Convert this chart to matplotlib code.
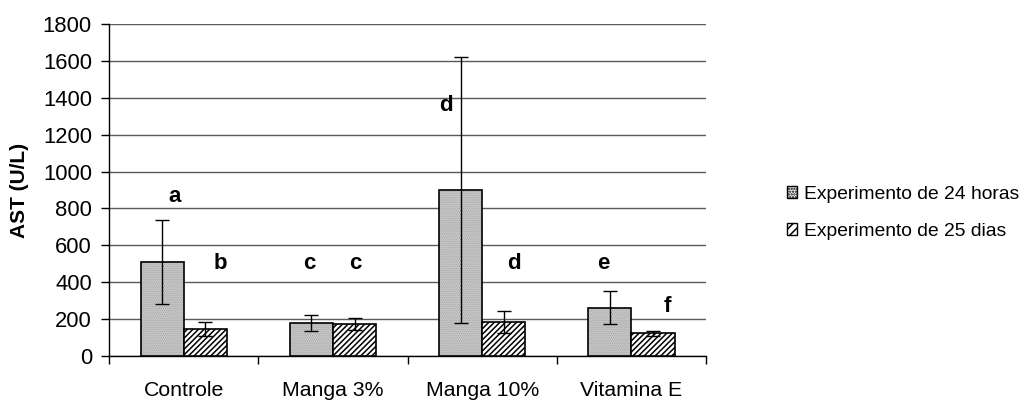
import matplotlib.pyplot as plt
import numpy as np
from matplotlib.patches import Patch
from matplotlib.ticker import FixedLocator

plt.rcParams["font.family"] = ["Liberation Sans", "DejaVu Sans"]
plt.rcParams["hatch.linewidth"] = 1.1

# data
groups = ["Controle", "Manga 3%", "Manga 10%", "Vitamina E"]
series_names = ["Experimento de 24 horas", "Experimento de 25 dias"]
ast_24h = [510, 177, 900, 261]
err_24h = [228, 45, 725, 90]
ast_25d = [146, 171, 185, 122]
err_25d = [37, 33, 60, 13]

# significance letters (x in category units, y in U/L)
letters = ["a", "b", "c", "c", "d", "d", "e", "f"]
letter_x = [-0.06, 0.245, 0.84, 1.15, 1.76, 2.21, 2.81, 3.245]
letter_y = [864, 498, 498, 498, 1359, 498, 498, 266]

DOT_FACE = "#f0f0f0"
DOT_COLOR = "#8c8c8c"
DOT_HATCH = "........"
LINE_HATCH = "//////"

fig = plt.figure(figsize=(10.23, 4.0), dpi=100)
ax = fig.add_axes([0.1068, 0.111, 0.5832, 0.828])

x = np.arange(len(groups))
w = 0.29
err_kw = dict(ecolor="black", elinewidth=1, capsize=5, capthick=1)

# 24 h: gray stipple (hatch drawn in gray, outline drawn separately in black)
ax.bar(x - w / 2, ast_24h, w, color=DOT_FACE, edgecolor=DOT_COLOR,
       linewidth=0, hatch=DOT_HATCH, zorder=3)
ax.bar(x - w / 2, ast_24h, w, yerr=err_24h, fill=False, edgecolor="black",
       linewidth=1.2, error_kw=err_kw, zorder=3)
# 25 d: black diagonal lines
ax.bar(x + w / 2, ast_25d, w, yerr=err_25d, color="white", edgecolor="black",
       linewidth=1.2, hatch=LINE_HATCH, error_kw=err_kw, zorder=3)

for t, tx, ty in zip(letters, letter_x, letter_y):
    ax.text(tx, ty, t, ha="center", va="center", fontsize=16,
            fontweight="bold", zorder=4)

ax.set_xlim(-0.5, len(groups) - 0.5)
ax.set_ylim(0, 1800)
ax.set_yticks(np.arange(0, 1801, 200))
ax.set_xticks(x)
ax.set_xticklabels(groups)
ax.xaxis.set_minor_locator(FixedLocator(np.arange(-0.5, len(groups), 1.0)))
ax.tick_params(axis="x", which="major", length=0, pad=18, labelsize=15.3)
ax.tick_params(axis="x", which="minor", length=5.5, width=1, direction="out")
ax.tick_params(axis="y", length=5.5, width=1, direction="out", pad=7,
               labelsize=15.8)

ax.yaxis.grid(True, color="#5a5a5a", linewidth=1, zorder=0)
ax.set_axisbelow(True)
for side in ["top", "right"]:
    ax.spines[side].set_visible(False)
for side in ["left", "bottom"]:
    ax.spines[side].set_linewidth(1)

ax.set_ylabel("AST (U/L)", fontsize=15, fontweight="bold", labelpad=10)

handles = [
    Patch(facecolor=DOT_FACE, edgecolor="black", hatch="......", label=series_names[0]),
    Patch(facecolor="white", edgecolor="black", hatch="////", label=series_names[1]),
]
fig.legend(handles=handles, loc="center left", bbox_to_anchor=(0.769, 0.4675),
           frameon=False, fontsize=13.9, handlelength=0.55, handleheight=0.55,
           handletextpad=0.35, labelspacing=1.05, borderpad=0, borderaxespad=0)

fig.savefig("out.png", dpi=100, facecolor="white")
